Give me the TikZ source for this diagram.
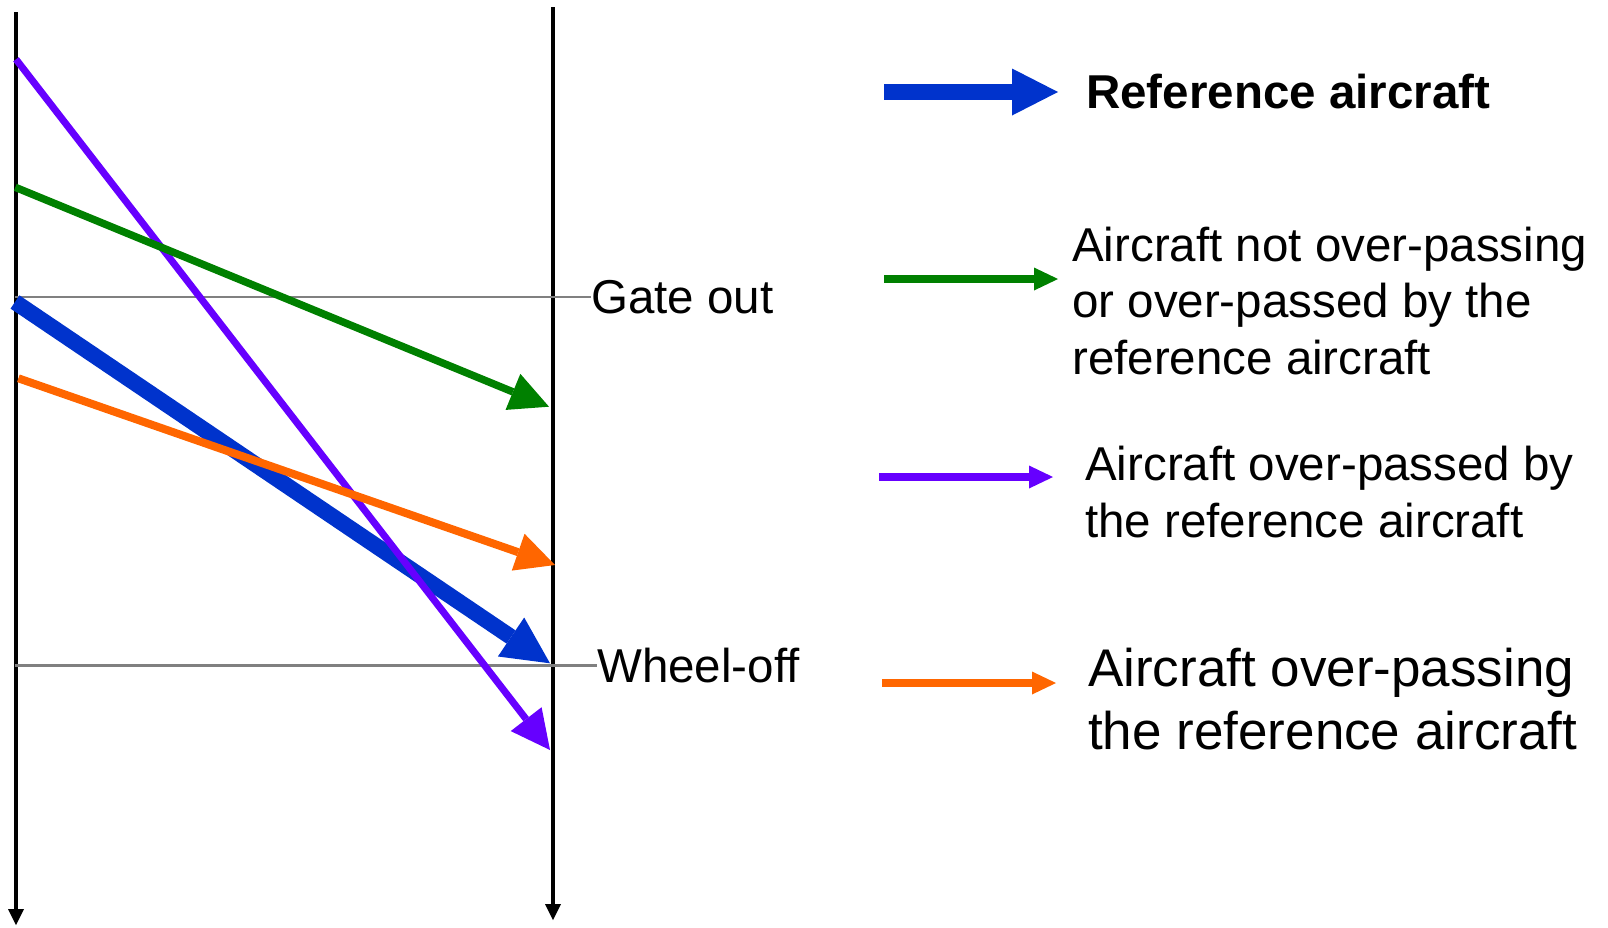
\documentclass[tikz,border=0pt]{standalone}
\usepackage{fontspec}
\setmainfont{Liberation Sans}
\usetikzlibrary{arrows.meta}
\definecolor{refblue}{HTML}{0033CC}
\definecolor{okgreen}{HTML}{008000}
\definecolor{passedpurple}{HTML}{6600FF}
\definecolor{passorange}{HTML}{FF6600}
\definecolor{guidegray}{HTML}{808080}
\begin{document}
\begin{tikzpicture}[x=1pt,y=-1pt,
  axisline/.style={line width=4pt, black, -{Triangle[length=16pt,width=16pt,line width=0pt]}},
  guide/.style={line width=2.5pt, guidegray},
  txt/.style={inner sep=0pt, anchor=base west, align=left, font=\fontsize{47.5}{56.4}\selectfont},
  flight/.style={-{Triangle[length=39pt,width=39pt,line width=0pt]}},
  legendarrow/.style={line width=8pt, -{Triangle[length=24pt,width=23pt,line width=0pt]}}
]
\useasboundingbox (0,0) rectangle (1608,927);

% axes
\coordinate (Ltop) at (16,12);
\coordinate (Lbot) at (16,925);
\coordinate (Rtop) at (553,7);
\coordinate (Rbot) at (553,920);
\draw[axisline] (Ltop) -- (Lbot);
\draw[axisline] (Rtop) -- (Rbot);

% labels
\node[txt] (gate) at (591,313.5) {Gate out};
\node[txt] (wheel) at (597,682.5) {Wheel-off};
\coordinate (gatestart) at (15,297);
\coordinate (wheelstart) at (15,665.5);
\draw[guide] (gatestart) -- (gatestart -| gate.west);
\draw[guide] (wheelstart) -- (wheelstart -| wheel.west);

% flights
\coordinate (b0) at (15,302);
\coordinate (b1) at (550,663.3);
\coordinate (p0) at (16,59.3);
\coordinate (p1) at (550,750);
\coordinate (o0) at (18.4,378.3);
\coordinate (o1) at (555,565);
\coordinate (g0) at (15.3,187.3);
\coordinate (g1) at (549,406.7);
\draw[refblue, line width=16pt, -{Triangle[length=47pt,width=47pt,line width=0pt]}] (b0) -- (b1);
\draw[passedpurple, line width=7pt, flight] (p0) -- (p1);
\draw[passorange, line width=8pt, flight] (o0) -- (o1);
\draw[okgreen, line width=7.5pt, flight] (g0) -- (g1);

% legend
\coordinate (lb0) at (884,92);
\coordinate (lb1) at (1058,92);
\coordinate (lg0) at (884,279);
\coordinate (lg1) at (1058,279);
\coordinate (lp0) at (879,477);
\coordinate (lp1) at (1053,477);
\coordinate (lo0) at (882,683);
\coordinate (lo1) at (1056,683);
\draw[refblue, line width=16pt, -{Triangle[length=46pt,width=47pt,line width=0pt]}] (lb0) -- (lb1);
\draw[okgreen, legendarrow] (lg0) -- (lg1);
\draw[passedpurple, legendarrow] (lp0) -- (lp1);
\draw[passorange, legendarrow] (lo0) -- (lo1);

% multi-line nodes: base anchor is the baseline of the last line
\node[txt, font=\fontsize{47.5}{56.4}\selectfont\bfseries] (ref) at (1086,108) {Reference aircraft};
\node[txt] (notpass) at (1072,374) {Aircraft not over-passing\\or over-passed by the\\reference aircraft};
\node[txt] (passed) at (1085,537) {Aircraft over-passed by\\the reference aircraft};
\node[txt, font=\fontsize{53}{62.5}\selectfont] (passing) at (1088,749) {Aircraft over-passing\\the reference aircraft};
\end{tikzpicture}
\end{document}
